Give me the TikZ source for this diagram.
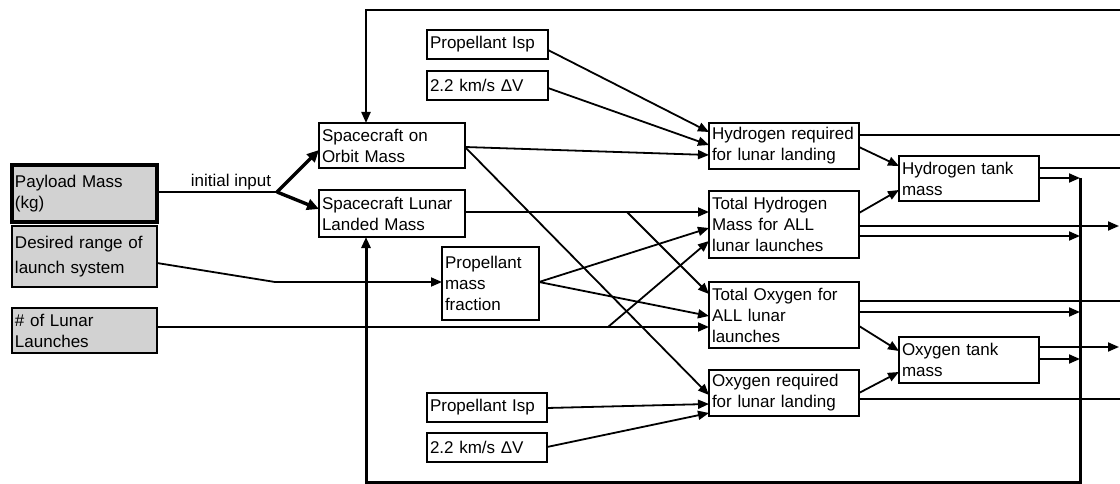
\documentclass[tikz,border=0pt]{standalone}
\usepackage{fontspec}
\setmainfont{Liberation Sans}
\usetikzlibrary{arrows.meta}
\begin{document}
\begin{tikzpicture}[x=1pt,y=-1pt,
  box/.style={draw, line width=1.8pt, inner xsep=3pt, inner ysep=0pt, outer sep=0pt, align=left, font=\fontsize{17}{21}\selectfont},
  inbox/.style={box, fill=gray!35},
  scbox/.style={box, line width=2.6pt},
  ln/.style={line width=1.8pt},
  arr/.style={ln, -{Triangle[length=11pt,width=9pt]}},
  tharr/.style={line width=3.4pt, -{Triangle[length=12pt,width=11pt]}},
  lbl/.style={font=\fontsize{17}{21}\selectfont, inner sep=0pt}]
\useasboundingbox (0,0) rectangle (1120,484);

% input boxes
\node[inbox, line width=3.8pt, minimum width=145pt, minimum height=57pt, text width=139pt] (pay) at (84.5,193.5) {Payload Mass\\(kg)};
\node[inbox, minimum width=145pt, minimum height=61pt, text width=139pt] (rng) at (84.5,256.5) {Desired range of\\[4pt]launch system};
\node[inbox, minimum width=145pt, minimum height=45pt, text width=139pt] (lun) at (84.5,330.5) {\# of Lunar\\Launches};

% spacecraft boxes
\node[scbox, minimum width=146pt, minimum height=45pt, text width=140pt] (orb) at (392,145.5) {Spacecraft on\\Orbit Mass};
\node[scbox, minimum width=146pt, minimum height=47pt, text width=140pt] (land) at (392,213.5) {Spacecraft Lunar\\Landed Mass};

% parameter boxes
\node[box, minimum width=121pt, minimum height=29pt, text width=115pt] (isp1) at (487.5,44.5) {Propellant Isp};
\node[box, minimum width=121pt, minimum height=29pt, text width=115pt] (dv1) at (487.5,85.5) {2.2 km/s ΔV};
\node[box, minimum width=97pt, minimum height=73pt, text width=91pt] (pmf) at (490.5,283.5) {Propellant\\mass\\fraction};
\node[box, minimum width=120pt, minimum height=29pt, text width=114pt] (isp2) at (487,407.5) {Propellant Isp};
\node[box, minimum width=120pt, minimum height=29pt, text width=114pt] (dv2) at (487,447.5) {2.2 km/s ΔV};

% result boxes
\node[box, minimum width=150pt, minimum height=46pt, text width=144pt] (hreq) at (784,146) {Hydrogen required\\for lunar landing};
\node[box, minimum width=150pt, minimum height=67pt, text width=144pt] (htot) at (784,224.5) {Total Hydrogen\\Mass for ALL\\lunar launches};
\node[box, minimum width=150pt, minimum height=66pt, text width=144pt] (otot) at (784,315) {Total Oxygen for\\ALL lunar\\launches};
\node[box, minimum width=150pt, minimum height=46pt, text width=144pt] (oreq) at (784,393) {Oxygen required\\for lunar landing};
\node[box, minimum width=140pt, minimum height=45pt, text width=134pt] (htank) at (969,178.5) {Hydrogen tank\\mass};
\node[box, minimum width=140pt, minimum height=46pt, text width=134pt] (otank) at (969,360) {Oxygen tank\\mass};

% helper coordinates
\coordinate (br) at (277,192);
\coordinate (rb) at (275,282);
\coordinate (lb) at (608,327);
\coordinate (sb) at (627,212);
\coordinate (tl) at (366,10);
\coordinate (tr) at (1120,10);
\coordinate (vt) at (1080,178);
\coordinate (vb) at (1080,482);
\coordinate (bl) at (366,482);
\coordinate (e1) at (1120,135);
\coordinate (e2) at (1120,168);
\coordinate (e3) at (1119,226);
\coordinate (e4) at (1120,301);
\coordinate (e5) at (1119,347);
\coordinate (e6) at (1120,399);

% initial input
\draw[ln, line width=2.2pt] (pay.east |- 0,192) -- (br);
\node[lbl, anchor=base] (ii) at (231,186) {initial input};
\draw[tharr] (br) -- (orb.west |- 0,150);
\draw[tharr] (br) -- (land.west |- 0,209);

% range and launches
\draw[arr] (rng.east |- 0,263) -- (rb) -- (pmf.west |- 0,282);
\draw[arr] (lun.east |- 0,327) -- (otot.west |- 0,327);
\draw[arr] (lb) -- (htot.west |- 0,241);

% into hydrogen required
\draw[arr] (isp1.east |- 0,50) -- (hreq.west |- 0,132);
\draw[arr] (dv1.east |- 0,88) -- (hreq.west |- 0,145);
\draw[arr] (orb.east |- 0,147) -- (hreq.west |- 0,155);
\draw[arr] (orb.east |- 0,147) -- (oreq.west |- 0,395);

% landed mass
\draw[arr] (land.east |- 0,212) -- (htot.west |- 0,212);
\draw[arr] (sb) -- (otot.west |- 0,294);

% propellant mass fraction
\draw[arr] (pmf.east |- 0,282) -- (htot.west |- 0,228);
\draw[arr] (pmf.east |- 0,282) -- (otot.west |- 0,316);

% into oxygen required
\draw[arr] (isp2.east |- 0,408) -- (oreq.west |- 0,404);
\draw[arr] (dv2.east |- 0,447) -- (oreq.west |- 0,413);

% hydrogen side outputs
\draw[ln] (hreq.east |- 0,135) -- (e1);
\draw[arr] (hreq.east |- 0,147) -- (htank.west |- 0,166);
\draw[arr] (htot.east |- 0,213) -- (htank.west |- 0,190);
\draw[ln] (htank.east |- 0,168) -- (e2);
\draw[arr] (htank.east |- 0,178) -- (vt);
\draw[arr] (htot.east |- 0,226) -- (e3);
\draw[arr] (htot.east |- 0,236) -- (vt |- 0,236);

% oxygen side outputs
\draw[ln] (otot.east |- 0,301) -- (e4);
\draw[arr] (otot.east |- 0,312) -- (vt |- 0,312);
\draw[arr] (otot.east |- 0,326) -- (otank.west |- 0,351);
\draw[arr] (oreq.east |- 0,393) -- (otank.west |- 0,372);
\draw[ln] (oreq.east |- 0,399) -- (e6);
\draw[arr] (otank.east |- 0,347) -- (e5);
\draw[arr] (otank.east |- 0,359) -- (vt |- 0,359);

% feedback loops
\draw[arr, line width=3pt] (vt) -- (vb) -- (bl) -- (bl |- land.south);
\draw[arr, line width=2.2pt] (tr) -- (tl) -- (tl |- orb.north);
\end{tikzpicture}
\end{document}
